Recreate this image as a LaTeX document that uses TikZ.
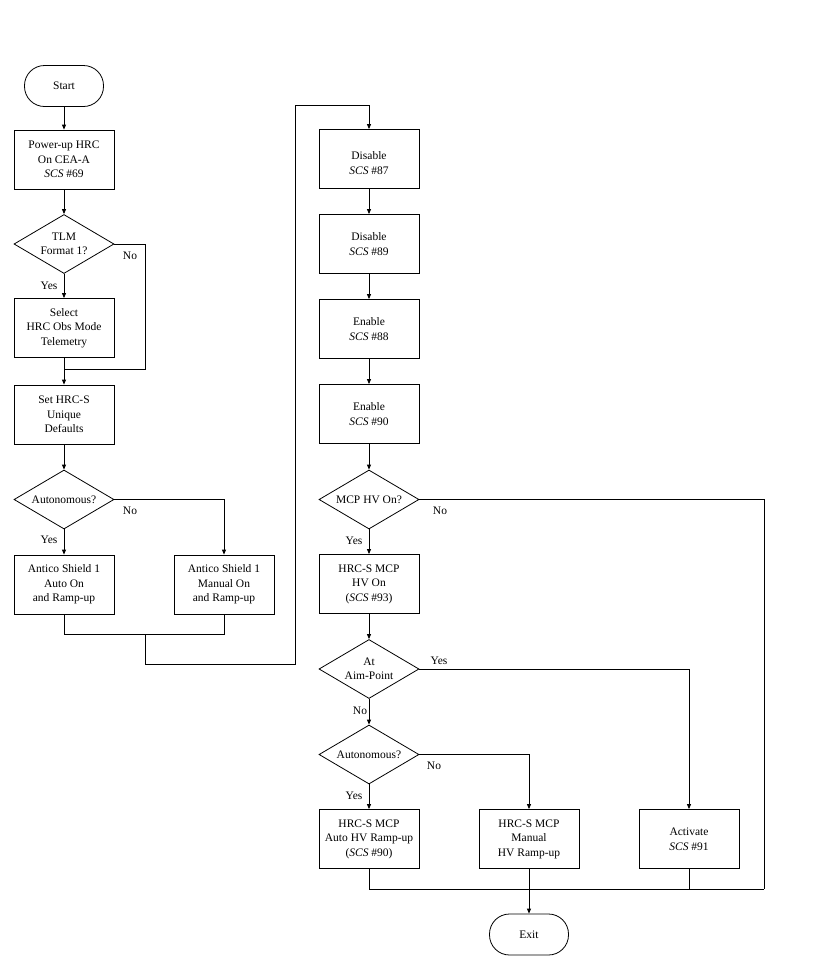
\documentclass[tikz,border=0pt]{standalone}
\usepackage{fontspec}
\setmainfont{Liberation Serif}
\usetikzlibrary{arrows.meta,shapes.geometric}
\newcommand{\fs}{\fontsize{11.5}{14.5}\selectfont}
\begin{document}
\begin{tikzpicture}[x=1pt,y=-1pt,
  base/.style={draw, line width=0.8pt, align=center, font=\fs, inner sep=0pt},
  proc/.style={base, rectangle, minimum width=100pt, minimum height=59pt},
  term/.style={base, rectangle, rounded corners=20pt, minimum width=79pt, minimum height=41pt},
  dec/.style={base, diamond, shape aspect=1.7, minimum width=100pt, minimum height=59pt},
  lbl/.style={font=\fs, inner sep=0pt},
  line/.style={line width=0.8pt},
  arr/.style={line, -{Triangle[length=5pt,width=4pt]}}]
\useasboundingbox (0,0) rectangle (820,970);
% left column
\node[term] (start) at (64,86) {Start};
\node[proc] (p1) at (64,159.5) {Power-up HRC\\On CEA-A\\\textit{SCS} \#69};
\node[dec] (d1) at (64,244) {TLM\\Format 1?};
\node[proc] (sel) at (64,328) {Select\\HRC Obs Mode\\Telemetry};
\node[proc] (set) at (64,414.5) {Set HRC-S\\Unique\\Defaults};
\node[dec] (d2) at (64,499.5) {Autonomous?};
\node[proc] (a1) at (64,584.5) {Antico Shield 1\\Auto On\\and Ramp-up};
\node[proc] (a2) at (224,584.5) {Antico Shield 1\\Manual On\\and Ramp-up};
% right column
\node[proc] (r1) at (369,159) {\rule{0pt}{16pt}Disable\\\textit{SCS} \#87};
\node[proc] (r2) at (369,244) {Disable\\\textit{SCS} \#89};
\node[proc] (r3) at (369,329) {Enable\\\textit{SCS} \#88};
\node[proc] (r4) at (369,414) {Enable\\\textit{SCS} \#90};
\node[dec] (d3) at (369,499.5) {MCP HV On?};
\node[proc] (hv) at (369,584) {HRC-S MCP\\HV On\\(\textit{SCS} \#93)};
\node[dec] (d4) at (369,669) {At\\Aim-Point};
\node[dec] (d5) at (369,754.5) {Autonomous?};
\node[proc] (b1) at (369,839) {HRC-S MCP\\Auto HV Ramp-up\\(\textit{SCS} \#90)};
\node[proc] (b2) at (529,839) {HRC-S MCP\\Manual\\HV Ramp-up};
\node[proc] (b3) at (689,839) {Activate\\\textit{SCS} \#91};
\node[term] (exit) at (529,934.5) {Exit};
% labels
\node[lbl] (l1) at (130,256) {No};
\node[lbl] (l2) at (49,286) {Yes};
\node[lbl] (l3) at (130,511) {No};
\node[lbl] (l4) at (49,540) {Yes};
\node[lbl] (l5) at (440,511) {No};
\node[lbl] (l6) at (354,541) {Yes};
\node[lbl] (l7) at (439,661) {Yes};
\node[lbl] (l8) at (360,711) {No};
\node[lbl] (l9) at (434,766) {No};
\node[lbl] (l10) at (354,796) {Yes};
% coordinates
\coordinate (j1) at (64,369);
\coordinate (j1r) at (145,369);
\coordinate (m1) at (145,634);
\coordinate (c1) at (295,664);
\coordinate (c2) at (295,105);
\coordinate (n3) at (764,889);
\coordinate (m2) at (529,889);
% connectors left
\draw[arr] (start) -- (p1);
\draw[arr] (p1) -- (d1);
\draw[arr] (d1) -- (sel);
\draw[arr] (sel) -- (set);
\draw[line] (d1.east) -| (j1r) -- (j1);
\draw[arr] (set) -- (d2);
\draw[arr] (d2) -- (a1);
\draw[arr] (d2.east) -| (a2.north);
\draw[line] (a1.south) |- (m1);
\draw[line] (a2.south) |- (m1);
\draw[arr] (m1) |- (c1) -- (c2) -| (r1.north);
% connectors right
\draw[arr] (r1) -- (r2);
\draw[arr] (r2) -- (r3);
\draw[arr] (r3) -- (r4);
\draw[arr] (r4) -- (d3);
\draw[arr] (d3) -- (hv);
\draw[arr] (hv) -- (d4);
\draw[arr] (d4) -- (d5);
\draw[arr] (d5) -- (b1);
\draw[arr] (d5.east) -| (b2.north);
\draw[arr] (d4.east) -| (b3.north);
\draw[line] (d3.east) -| (n3);
\draw[line] (b1.south) |- (n3);
\draw[line] (b3.south) -- (b3.south |- m2);
\draw[arr] (b2.south) -- (exit.north);
\end{tikzpicture}
\end{document}
